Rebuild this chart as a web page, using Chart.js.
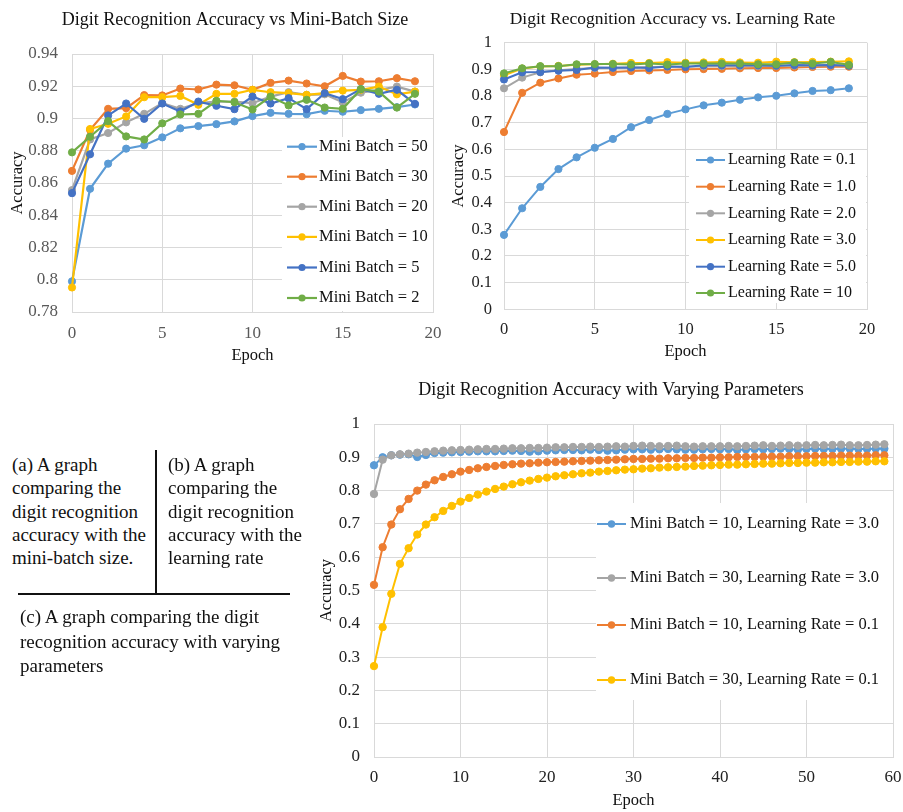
<!DOCTYPE html>
<html><head><meta charset="utf-8">
<script src="https://cdn.jsdelivr.net/npm/chart.js@4.4.1/dist/chart.umd.min.js"></script>
<style>
html,body{margin:0;padding:0;background:#fff;overflow:hidden;width:903px;height:812px;}
body{position:relative;font-family:"Liberation Serif","Times New Roman",serif;}
canvas{position:absolute;}
.cap{position:absolute;font-size:19px;line-height:23.3px;color:#111;white-space:nowrap;}
.rule{position:absolute;background:#111;}
</style></head><body>
<canvas id="ca" width="455" height="372" style="left:0px;top:0px"></canvas>
<canvas id="cb" width="449" height="372" style="left:440px;top:0px"></canvas>
<canvas id="cc" width="615" height="442" style="left:300px;top:370px"></canvas>

<div class="cap" style="left:12px;top:453px">(a) A graph<br>comparing the<br>digit recognition<br>accuracy with the<br>mini-batch size.</div>
<div class="cap" style="left:168px;top:453px">(b) A graph<br>comparing the<br>digit recognition<br>accuracy with the<br>learning rate</div>
<div class="rule" style="left:155px;top:450px;width:2px;height:145px"></div>
<div class="rule" style="left:18px;top:593px;width:272px;height:2px"></div>
<div class="cap" style="left:20px;top:605px;line-height:24.5px">(c) A graph comparing the digit<br>recognition accuracy with varying<br>parameters</div>

<script>
// ---------------- DATA ----------------
const epochs20 = [0,1,2,3,4,5,6,7,8,9,10,11,12,13,14,15,16,17,18,19];
const epochs60 = [0,1,2,3,4,5,6,7,8,9,10,11,12,13,14,15,16,17,18,19,20,21,22,23,24,25,26,27,28,29,
                  30,31,32,33,34,35,36,37,38,39,40,41,42,43,44,45,46,47,48,49,50,51,52,53,54,55,56,57,58,59];

// Chart (a): accuracy vs mini-batch size
const titleA = 'Digit Recognition Accuracy vs Mini-Batch Size';
const labelsA = ['Mini Batch = 50','Mini Batch = 30','Mini Batch = 20','Mini Batch = 10','Mini Batch = 5','Mini Batch = 2'];
const mb50 = [0.799,0.8564,0.872,0.8813,0.8834,0.8883,0.8939,0.8953,0.8965,0.8982,0.9015,0.9035,0.9029,0.9027,0.9048,0.9042,0.9052,0.906,0.907,0.9087];
const mb30 = [0.8675,0.893,0.906,0.9064,0.9145,0.9143,0.9186,0.918,0.921,0.9206,0.9178,0.9221,0.9235,0.9217,0.92,0.9264,0.9229,0.9231,0.925,0.9231];
const mb20 = [0.8556,0.887,0.891,0.8976,0.9029,0.9095,0.906,0.9095,0.9105,0.9105,0.9095,0.9136,0.9163,0.9147,0.915,0.910,0.916,0.9178,0.9198,0.9167];
const mb10 = [0.7952,0.8935,0.8967,0.9013,0.9132,0.9132,0.914,0.9085,0.9153,0.9153,0.9178,0.9163,0.9157,0.9147,0.9157,0.9173,0.9178,0.9198,0.915,0.9167];
const mb5  = [0.8537,0.8778,0.9019,0.9093,0.8998,0.9093,0.9044,0.9105,0.9079,0.9058,0.9136,0.9093,0.9126,0.9058,0.9157,0.912,0.9182,0.9153,0.9178,0.9091];
const mb2  = [0.879,0.8887,0.8984,0.8889,0.887,0.897,0.9025,0.9029,0.911,0.9101,0.9056,0.9136,0.9081,0.9116,0.9068,0.906,0.9182,0.9167,0.9068,0.9153];
const yTicksA = [0.78,0.8,0.82,0.84,0.86,0.88,0.9,0.92,0.94];
const yTickLabelsA = ['0.78','0.8','0.82','0.84','0.86','0.88','0.9','0.92','0.94'];
const xTicksA = [0,5,10,15,20];
const xTickLabelsA = ['0','5','10','15','20'];

// Chart (b): accuracy vs learning rate
const titleB = 'Digit Recognition Accuracy vs. Learning Rate';
const labelsB = ['Learning Rate = 0.1','Learning Rate = 1.0','Learning Rate = 2.0','Learning Rate = 3.0','Learning Rate = 5.0','Learning Rate = 10'];
const lr01 = [0.279,0.379,0.459,0.526,0.570,0.606,0.639,0.683,0.710,0.733,0.750,0.765,0.775,0.786,0.795,0.801,0.810,0.819,0.822,0.829];
const lr10 = [0.665,0.812,0.850,0.866,0.880,0.884,0.890,0.894,0.896,0.898,0.900,0.901,0.902,0.904,0.905,0.905,0.907,0.909,0.910,0.910];
const lr20 = [0.829,0.869,0.889,0.897,0.901,0.905,0.906,0.907,0.909,0.910,0.911,0.911,0.912,0.912,0.913,0.913,0.914,0.914,0.915,0.915];
const lr30 = [0.878,0.903,0.911,0.913,0.917,0.919,0.921,0.924,0.924,0.927,0.925,0.926,0.928,0.926,0.925,0.929,0.927,0.928,0.929,0.930];
const lr50 = [0.862,0.889,0.890,0.895,0.898,0.907,0.906,0.907,0.905,0.911,0.909,0.915,0.915,0.915,0.915,0.914,0.916,0.915,0.916,0.914];
const lr100 = [0.885,0.904,0.912,0.912,0.919,0.920,0.920,0.918,0.922,0.918,0.922,0.922,0.922,0.922,0.919,0.919,0.926,0.922,0.928,0.917];
const yTicksB = [0,0.1,0.2,0.3,0.4,0.5,0.6,0.7,0.8,0.9,1];
const yTickLabelsB = ['0','0.1','0.2','0.3','0.4','0.5','0.6','0.7','0.8','0.9','1'];
const xTicksB = [0,5,10,15,20];
const xTickLabelsB = ['0','5','10','15','20'];

// Chart (c): accuracy with varying parameters
const titleC = 'Digit Recognition Accuracy with Varying Parameters';
const labelsC = ['Mini Batch = 10, Learning Rate = 3.0','Mini Batch = 30, Learning Rate = 3.0','Mini Batch = 10, Learning Rate = 0.1','Mini Batch = 30, Learning Rate = 0.1'];
const mb10lr30 = [0.876,0.900,0.906,0.908,0.909,0.901,0.907,0.913,0.914,0.915,
                  0.916,0.917,0.918,0.918,0.918,0.919,0.920,0.919,0.917,0.918,
                  0.920,0.921,0.922,0.922,0.921,0.923,0.922,0.920,0.921,0.923,
                  0.924,0.924,0.923,0.924,0.925,0.924,0.923,0.923,0.924,0.925,
                  0.924,0.925,0.922,0.924,0.925,0.924,0.925,0.926,0.925,0.923,
                  0.925,0.926,0.925,0.925,0.926,0.926,0.925,0.925,0.926,0.926];
const mb30lr30 = [0.790,0.893,0.906,0.909,0.911,0.914,0.916,0.918,0.920,0.921,
                  0.922,0.923,0.924,0.925,0.925,0.926,0.927,0.927,0.928,0.928,
                  0.929,0.930,0.930,0.931,0.931,0.932,0.931,0.932,0.933,0.932,
                  0.934,0.935,0.934,0.933,0.934,0.935,0.933,0.932,0.933,0.933,
                  0.933,0.934,0.933,0.934,0.935,0.936,0.934,0.935,0.936,0.935,
                  0.936,0.937,0.936,0.937,0.938,0.936,0.936,0.937,0.938,0.939];
const mb10lr01 = [0.517,0.630,0.698,0.744,0.775,0.800,0.818,0.831,0.841,0.849,
                  0.857,0.862,0.867,0.871,0.874,0.877,0.879,0.881,0.882,0.884,
                  0.885,0.886,0.887,0.888,0.889,0.890,0.891,0.892,0.893,0.894,
                  0.895,0.895,0.896,0.896,0.897,0.897,0.898,0.898,0.899,0.899,
                  0.900,0.900,0.901,0.901,0.901,0.902,0.902,0.902,0.903,0.903,
                  0.903,0.904,0.904,0.904,0.905,0.905,0.905,0.905,0.906,0.906];
const mb30lr01 = [0.273,0.390,0.490,0.580,0.627,0.668,0.698,0.720,0.739,0.754,
                  0.767,0.778,0.788,0.797,0.805,0.812,0.819,0.825,0.830,0.835,
                  0.839,0.843,0.846,0.849,0.852,0.854,0.857,0.859,0.861,0.863,
                  0.864,0.866,0.867,0.869,0.870,0.871,0.872,0.874,0.875,0.876,
                  0.877,0.878,0.878,0.879,0.880,0.881,0.881,0.882,0.883,0.883,
                  0.884,0.884,0.885,0.885,0.886,0.886,0.887,0.887,0.888,0.888];
const yTicksC = [0,0.1,0.2,0.3,0.4,0.5,0.6,0.7,0.8,0.9,1];
const yTickLabelsC = ['0','0.1','0.2','0.3','0.4','0.5','0.6','0.7','0.8','0.9','1'];
const xTicksC = [0,10,20,30,40,50,60];
const xTickLabelsC = ['0','10','20','30','40','50','60'];

// ---------------- STYLE ----------------
const FONT = "'Liberation Serif','Times New Roman',serif";
const COL = {lblue:'#5B9BD5', orange:'#ED7D31', gray:'#A5A5A5', yellow:'#FFC000', blue:'#4472C4', green:'#70AD47'};
const GRID = '#d9d9d9';
Chart.defaults.font.family = FONT;

// legend drawn inside the plot area, Excel style
const insideLegend = {
  id: 'insideLegend',
  afterLayout(chart, args, o) {
    // re-center the title block over the requested x
    if (o && o.titleX !== undefined && chart.titleBlock) {
      const t = chart.titleBlock, w = t.right - t.left;
      t.left = o.titleX - w / 2; t.right = o.titleX + w / 2;
    }
  },
  beforeDatasetsDraw(chart, args, o) {
    if (!o || !o.rows) return;
    const ctx = chart.ctx;
    ctx.save();
    ctx.fillStyle = '#ffffff';
    ctx.fillRect(o.box[0], o.box[1], o.box[2], o.box[3]);
    ctx.restore();
  },
  afterDatasetsDraw(chart, args, o) {
    if (!o || !o.rows) return;
    const ctx = chart.ctx;
    ctx.save();
    chart.data.datasets.forEach((ds, i) => {
      const y = o.rows[i];
      ctx.strokeStyle = ds.borderColor;
      ctx.lineWidth = ds.borderWidth;
      ctx.beginPath(); ctx.moveTo(o.x0, y); ctx.lineTo(o.x0 + o.len, y); ctx.stroke();
      ctx.fillStyle = ds.borderColor;
      ctx.beginPath(); ctx.arc(o.x0 + o.len / 2, y, o.r, 0, Math.PI * 2); ctx.fill();
      ctx.fillStyle = o.color;
      ctx.font = o.font;
      ctx.textBaseline = 'middle';
      ctx.textAlign = 'left';
      ctx.fillText(ds.label, o.tx, y);
    });
    ctx.restore();
  }
};
Chart.register(insideLegend);

function makeDatasets(labels, series, colors, xs, radius, bw) {
  return series.map((arr, i) => ({
    label: labels[i],
    data: arr.map((v, j) => ({x: xs[j], y: v})),
    borderColor: colors[i],
    backgroundColor: colors[i],
    pointBackgroundColor: colors[i],
    pointBorderColor: colors[i],
    pointBorderWidth: 1,
    pointRadius: radius,
    pointHoverRadius: radius,
    borderWidth: bw,
    tension: 0,
    order: -i,
    clip: 10
  }));
}

function build(id, g) {
  return new Chart(document.getElementById(id), {
    type: 'line',
    data: {datasets: makeDatasets(g.labels, g.series, g.colors, g.xs, g.radius, g.bw)},
    options: {
      responsive: false,
      animation: false,
      devicePixelRatio: 1,
      events: [],
      layout: {padding: {left: 0, right: g.padR, top: 0, bottom: 0}},
      plugins: {
        legend: {display: false},
        tooltip: {enabled: false},
        title: {display: true, text: g.title, color: '#111',
                font: {size: g.titleSize, family: FONT, weight: 'normal', lineHeight: 1.2},
                padding: {top: g.titleTop, bottom: g.titleBottom}},
        insideLegend: g.legend
      },
      scales: {
        x: {
          type: 'linear', min: g.xTicks[0], max: g.xTicks[g.xTicks.length - 1],
          afterBuildTicks: s => { s.ticks = g.xTicks.map(v => ({value: v})); },
          afterFit: s => { s.height = g.xH; },
          grid: {color: GRID, drawTicks: false, lineWidth: 1},
          border: {display: true, color: GRID, width: 1},
          ticks: {padding: g.xTickPad, color: g.tickColor, font: {size: g.tickSize, family: FONT},
                  maxRotation: 0, autoSkip: false,
                  callback: (v, i) => g.xTickLabels[i]},
          title: {display: true, text: 'Epoch', color: '#111', font: {size: g.axisTitleSize, family: FONT, lineHeight: 1.2},
                  padding: {top: 0, bottom: g.xTitlePad}}
        },
        y: {
          type: 'linear', min: g.yTicks[0], max: g.yTicks[g.yTicks.length - 1],
          afterBuildTicks: s => { s.ticks = g.yTicks.map(v => ({value: v})); },
          afterFit: s => { s.width = g.yW; },
          grid: {color: GRID, drawTicks: false, lineWidth: 1},
          border: {display: true, color: GRID, width: 1},
          ticks: {padding: g.yTickPad, color: g.tickColor, font: {size: g.tickSize, family: FONT},
                  autoSkip: false, callback: (v, i) => g.yTickLabels[i]},
          title: {display: true, text: 'Accuracy', color: '#111', font: {size: g.axisTitleSize, family: FONT, lineHeight: 1.2},
                  padding: {top: g.yTitlePad, bottom: 0}}
        }
      }
    }
  });
}

// Chart (a)  canvas at (0,0) ; plot 72..433 x 54..312
build('ca', {
  title: titleA, labels: labelsA, series: [mb50, mb30, mb20, mb10, mb5, mb2],
  colors: [COL.lblue, COL.orange, COL.gray, COL.yellow, COL.blue, COL.green],
  xs: epochs20, radius: 3.6, bw: 2.2,
  xTicks: xTicksA, xTickLabels: xTickLabelsA, yTicks: yTicksA, yTickLabels: yTickLabelsA,
  padR: 22, yW: 72, xH: 60,
  titleSize: 18, titleTop: 9.2, titleBottom: 23.2,
  tickSize: 17, tickColor: '#595959', axisTitleSize: 16.5,
  yTickPad: 14, xTickPad: 11, xTitlePad: 6.8, yTitlePad: 8.1,
  legend: {titleX: 235, box: [282, 137, 151, 174], rows: [146.7, 176.7, 206.7, 236.9, 267.5, 298], x0: 287, len: 30, r: 3.6,
           tx: 319, font: "16.5px " + FONT, color: '#111'}
});

// Chart (b)  canvas at (440,0) ; plot 504..867 x 42.7..309.3
build('cb', {
  title: titleB, labels: labelsB, series: [lr01, lr10, lr20, lr30, lr50, lr100],
  colors: [COL.lblue, COL.orange, COL.gray, COL.yellow, COL.blue, COL.green],
  xs: epochs20, radius: 3.6, bw: 2,
  xTicks: xTicksB, xTickLabels: xTickLabelsB, yTicks: yTicksB, yTickLabels: yTickLabelsB,
  padR: 22, yW: 64, xH: 62.7,
  titleSize: 17.5, titleTop: 8.5, titleBottom: 13.2,
  tickSize: 16.5, tickColor: '#222', axisTitleSize: 16.5,
  yTickPad: 12, xTickPad: 10, xTitlePad: 10.8, yTitlePad: 9.1,
  legend: {titleX: 232.5, box: [249, 150, 177, 153], rows: [160, 186.7, 213.3, 240, 266.7, 293], x0: 256, len: 29, r: 3.6,
           tx: 288, font: "16px " + FONT, color: '#111'}
});

// Chart (c)  canvas at (300,370) ; plot 374..893 x 424..757
build('cc', {
  title: titleC, labels: labelsC, series: [mb10lr30, mb30lr30, mb10lr01, mb30lr01],
  colors: [COL.lblue, COL.gray, COL.orange, COL.yellow],
  xs: epochs60, radius: 3.7, bw: 2,
  xTicks: xTicksC, xTickLabels: xTickLabelsC, yTicks: yTicksC, yTickLabels: yTickLabelsC,
  padR: 22, yW: 74, xH: 55,
  titleSize: 18, titleTop: 9.2, titleBottom: 23.2,
  tickSize: 17, tickColor: '#222', axisTitleSize: 16.5,
  yTickPad: 14, xTickPad: 10.8, xTitlePad: 1.8, yTitlePad: 17.1,
  legend: {titleX: 311, box: [296, 133, 297, 197], rows: [154, 208, 255, 310], x0: 297, len: 29, r: 3.7,
           tx: 330, font: "16.5px " + FONT, color: '#111'}
});
</script>
</body></html>
